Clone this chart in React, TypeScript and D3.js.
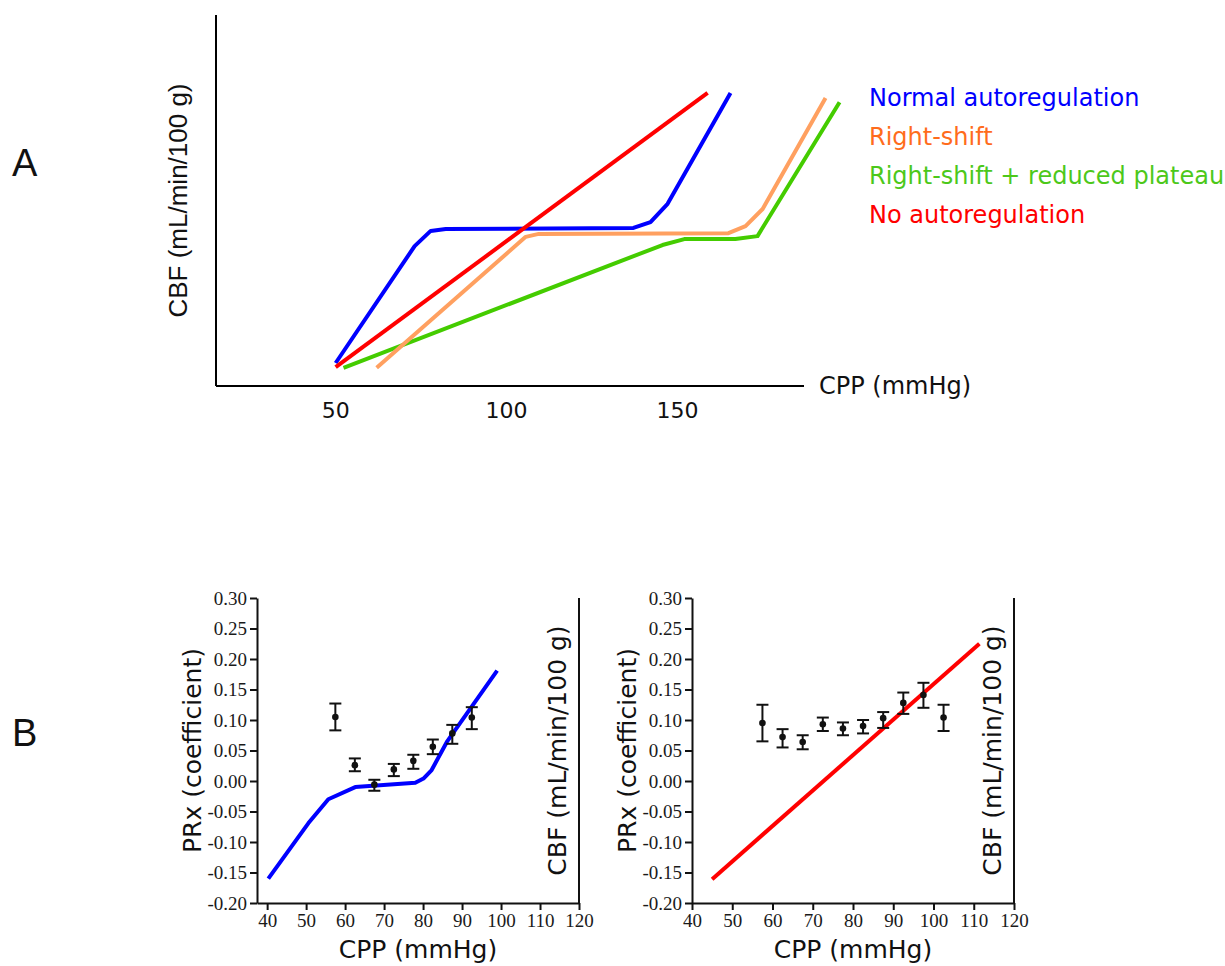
import { useEffect, useRef } from 'react';
import * as d3 from 'd3';

// ── Panel A: schematic autoregulation curves (CPP mmHg, CBF arbitrary 0-100)
const normalCPP = [50, 73.1, 77.8, 82.2, 137.1, 142.1, 147.1, 165.5];
const normalCBF = [6.2, 37.7, 41.8, 42.3, 42.6, 44.2, 49.1, 79];
const shiftCPP = [62, 105.6, 109.4, 164.9, 169.9, 174.9, 193.3];
const shiftCBF = [4.9, 40.2, 41, 41.2, 43.1, 47.7, 77.6];
const reducedCPP = [52.3, 145.6, 152, 166.9, 173.4, 197.4];
const reducedCBF = [4.9, 38, 39.6, 39.6, 40.4, 76.5];
const noAutoCPP = [50, 158.8];
const noAutoCBF = [5.1, 79];
const ticksA = [50, 100, 150];

const legendLabels = ['Normal autoregulation', 'Right-shift', 'Right-shift + reduced plateau', 'No autoregulation'];
const legendColors = ['#0000ff', '#ff6c1c', '#4cc81a', '#ff0000'];

// ── Panel B left: intact autoregulation
const leftBins = [57.5, 62.5, 67.5, 72.5, 77.5, 82.5, 87.5, 92.5];
const leftMean = [0.105, 0.026, -0.006, 0.019, 0.033, 0.056, 0.078, 0.104];
const leftLo = [0.083, 0.016, -0.016, 0.008, 0.020, 0.044, 0.061, 0.085];
const leftHi = [0.127, 0.037, 0.002, 0.028, 0.043, 0.068, 0.092, 0.121];
const blueCPP = [40.3, 50.6, 55.7, 62.6, 78.0, 80.1, 82.2, 86.1, 99.0];
const blueVal = [-0.160, -0.069, -0.030, -0.010, -0.003, 0.004, 0.018, 0.064, 0.181];

// ── Panel B right: impaired autoregulation
const rightBins = [57.5, 62.5, 67.5, 72.5, 77.5, 82.5, 87.5, 92.5, 97.5, 102.5];
const rightMean = [0.095, 0.072, 0.064, 0.093, 0.086, 0.090, 0.103, 0.128, 0.141, 0.104];
const rightLo = [0.065, 0.055, 0.052, 0.082, 0.075, 0.078, 0.087, 0.110, 0.120, 0.082];
const rightHi = [0.125, 0.085, 0.075, 0.104, 0.096, 0.100, 0.113, 0.145, 0.161, 0.125];
const redCPP = [45, 111.4];
const redVal = [-0.161, 0.225];

const xTicksB = [40, 50, 60, 70, 80, 90, 100, 110, 120];
const yTicksB = [-0.2, -0.15, -0.1, -0.05, 0, 0.05, 0.1, 0.15, 0.2, 0.25, 0.3];

const sans = "'DejaVu Sans', Verdana, sans-serif";
const arial = "'Liberation Sans', Arial, sans-serif";
const serif = "'Liberation Serif', 'Times New Roman', serif";

export default function App() {
  const svgRef = useRef<SVGSVGElement | null>(null);

  useEffect(() => {
    if (!svgRef.current) return;
    const svg = d3.select(svgRef.current);
    svg.selectAll('*').remove();

    // ── Panel A
    const xA = d3.scaleLinear().domain([15, 187]).range([216, 804]);
    const yA = d3.scaleLinear().domain([0, 100]).range([386, 15]);
    const gA = svg.append('g');

    gA.append('line').attr('x1', xA(15)).attr('x2', xA(15)).attr('y1', yA(100)).attr('y2', yA(0))
      .attr('stroke', '#000').attr('stroke-width', 2);
    gA.append('line').attr('x1', xA(15)).attr('x2', xA(187)).attr('y1', yA(0)).attr('y2', yA(0))
      .attr('stroke', '#000').attr('stroke-width', 2);

    gA.selectAll('.tA').data(ticksA).join('text').attr('class', 'tA')
      .attr('x', d => xA(d)).attr('y', 418).attr('text-anchor', 'middle')
      .attr('font-family', sans).attr('font-size', 22).attr('fill', '#111').text(d => d);

    gA.append('text').attr('x', 819).attr('y', 394).attr('font-family', sans).attr('font-size', 24)
      .attr('fill', '#111').text('CPP (mmHg)');
    gA.append('text').attr('transform', `translate(187,${(yA(100) + yA(0)) / 2}) rotate(-90)`)
      .attr('text-anchor', 'middle').attr('font-family', arial).attr('font-size', 26)
      .attr('fill', '#111').text('CBF (mL/min/100 g)');

    const lineA = d3.line<[number, number]>().x(d => xA(d[0])).y(d => yA(d[1]));
    const seriesA = [
      { xs: reducedCPP, ys: reducedCBF, color: '#44cc00' },
      { xs: shiftCPP, ys: shiftCBF, color: '#ffa060' },
      { xs: normalCPP, ys: normalCBF, color: '#0000ff' },
      { xs: noAutoCPP, ys: noAutoCBF, color: '#ff0000' },
    ];
    seriesA.forEach(s => {
      gA.append('path').datum(s.xs.map((x, i) => [x, s.ys[i]] as [number, number]))
        .attr('d', lineA).attr('fill', 'none').attr('stroke', s.color)
        .attr('stroke-width', 4).attr('stroke-linejoin', 'round');
    });

    gA.selectAll('.leg').data(legendLabels).join('text').attr('class', 'leg')
      .attr('x', 869).attr('y', (_, i) => 106 + i * 39)
      .attr('font-family', sans).attr('font-size', 24)
      .attr('fill', (_, i) => legendColors[i]).text(d => d);

    svg.append('text').attr('x', 12).attr('y', 176).attr('font-family', arial).attr('font-size', 38)
      .attr('fill', '#111').text('A');
    svg.append('text').attr('x', 12).attr('y', 746).attr('font-family', arial).attr('font-size', 38)
      .attr('fill', '#111').text('B');

    // ── Panel B
    const yB = d3.scaleLinear().domain([-0.2, 0.3]).range([903, 598]);

    const drawB = (
      x: d3.ScaleLinear<number, number>,
      bins: number[], mean: number[], lo: number[], hi: number[],
      lx: number[], ly: number[], lineColor: string,
    ) => {
      const g = svg.append('g');
      const [x0, x1] = x.range();

      g.append('g').attr('transform', `translate(0,${yB(-0.2)})`)
        .call(d3.axisBottom(x).tickValues(xTicksB).tickSize(7).tickPadding(4).tickSizeOuter(0))
        .call(ax => {
          ax.select('.domain').attr('stroke', '#111').attr('stroke-width', 2);
          ax.selectAll('line').attr('stroke', '#111').attr('stroke-width', 2);
          ax.selectAll('text').attr('fill', '#1a1a1a').attr('font-family', serif).attr('font-size', 19);
        });
      g.append('g').attr('transform', `translate(${x0},0)`)
        .call(d3.axisLeft(yB).tickValues(yTicksB).tickSize(7).tickPadding(3).tickSizeOuter(0)
          .tickFormat(d => d3.format('.2f')(d as number).replace('−', '-')))
        .call(ax => {
          ax.select('.domain').attr('stroke', '#111').attr('stroke-width', 2);
          ax.selectAll('line').attr('stroke', '#111').attr('stroke-width', 2);
          ax.selectAll('text').attr('fill', '#1a1a1a').attr('font-family', serif).attr('font-size', 19);
        });
      g.append('line').attr('x1', x1).attr('x2', x1).attr('y1', yB(0.3)).attr('y2', yB(-0.2))
        .attr('stroke', '#111').attr('stroke-width', 2);

      const line = d3.line<[number, number]>().x(d => x(d[0])).y(d => yB(d[1]));
      g.append('path').datum(lx.map((v, i) => [v, ly[i]] as [number, number]))
        .attr('d', line).attr('fill', 'none').attr('stroke', lineColor)
        .attr('stroke-width', 4).attr('stroke-linejoin', 'round');

      const eb = g.selectAll('.eb').data(bins).join('g').attr('class', 'eb');
      eb.append('line').attr('x1', d => x(d)).attr('x2', d => x(d))
        .attr('y1', (_, i) => yB(lo[i])).attr('y2', (_, i) => yB(hi[i]))
        .attr('stroke', '#111').attr('stroke-width', 2);
      eb.append('line').attr('x1', d => x(d) - 6).attr('x2', d => x(d) + 6)
        .attr('y1', (_, i) => yB(hi[i])).attr('y2', (_, i) => yB(hi[i]))
        .attr('stroke', '#111').attr('stroke-width', 2);
      eb.append('line').attr('x1', d => x(d) - 6).attr('x2', d => x(d) + 6)
        .attr('y1', (_, i) => yB(lo[i])).attr('y2', (_, i) => yB(lo[i]))
        .attr('stroke', '#111').attr('stroke-width', 2);
      eb.append('circle').attr('cx', d => x(d)).attr('cy', (_, i) => yB(mean[i]))
        .attr('r', 3.3).attr('fill', '#111');

      const midY = (yB(0.3) + yB(-0.2)) / 2;
      g.append('text').attr('x', (x0 + x1) / 2).attr('y', 958).attr('text-anchor', 'middle')
        .attr('font-family', sans).attr('font-size', 25).attr('fill', '#111').text('CPP (mmHg)');
      g.append('text').attr('transform', `translate(${x0 - 56},${midY}) rotate(-90)`)
        .attr('text-anchor', 'middle').attr('font-family', sans).attr('font-size', 25)
        .attr('fill', '#111').text('PRx (coefficient)');
      g.append('text').attr('transform', `translate(${x1 - 13},${midY}) rotate(-90)`)
        .attr('text-anchor', 'middle').attr('font-family', sans).attr('font-size', 25)
        .attr('fill', '#111').text('CBF (mL/min/100 g)');
    };

    const xBL = d3.scaleLinear().domain([37.4, 120]).range([257, 579]);
    const xBR = d3.scaleLinear().domain([40, 120]).range([692, 1014]);
    drawB(xBL, leftBins, leftMean, leftLo, leftHi, blueCPP, blueVal, '#0000ff');
    drawB(xBR, rightBins, rightMean, rightLo, rightHi, redCPP, redVal, '#ff0000');
  }, []);

  return (
    <div style={{ position: 'absolute', left: 0, top: 0, width: 1225, height: 966, background: '#fff' }}>
      <svg ref={svgRef} width={1225} height={966} style={{ display: 'block' }} />
    </div>
  );
}
